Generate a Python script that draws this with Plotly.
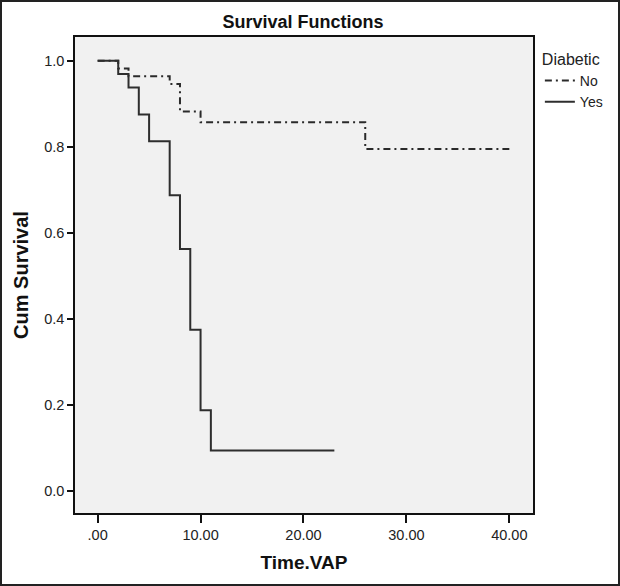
import plotly.graph_objects as go

# Data (Kaplan-Meier step curves)
no_time = [0, 2, 3, 7, 8, 10, 26, 40]
no_surv = [1.0, 0.982, 0.964, 0.946, 0.882, 0.857, 0.795, 0.795]

yes_time = [0, 2, 3, 4, 5, 7, 8, 9, 10, 11, 23]
yes_surv = [1.0, 0.969, 0.9375, 0.875, 0.8125, 0.6875, 0.5625, 0.375, 0.1875, 0.094, 0.094]

x_ticks = [0, 10, 20, 30, 40]
x_tick_labels = [".00", "10.00", "20.00", "30.00", "40.00"]
y_ticks = [0.0, 0.2, 0.4, 0.6, 0.8, 1.0]
y_tick_labels = ["0.0", "0.2", "0.4", "0.6", "0.8", "1.0"]

FONT = "Liberation Sans, Arial, sans-serif"

fig = go.Figure()
fig.add_trace(go.Scatter(
    x=no_time, y=no_surv, mode="lines", name="No",
    line=dict(shape="hv", color="#2a2a2a", width=2, dash="7px,4px,2px,4px"),
))
fig.add_trace(go.Scatter(
    x=yes_time, y=yes_surv, mode="lines", name="Yes",
    line=dict(shape="hv", color="#2e2e2e", width=2),
))

W, H = 620, 586
L, R, T, B = 75, 87, 37, 73
pw, ph = W - L - R, H - T - B

fig.update_layout(
    width=W, height=H,
    margin=dict(l=L, r=R, t=T, b=B, pad=0),
    paper_bgcolor="white",
    plot_bgcolor="#f1f1f1",
    font=dict(family=FONT, size=14, color="#222222"),
    title=dict(text="<b>Survival Functions</b>", x=(303 - L) / pw, xref="paper",
               xanchor="center", y=1 - 22 / H, yanchor="middle",
               font=dict(size=18, color="#111111")),
    showlegend=True,
    legend=dict(
        title=dict(text="Diabetic", font=dict(size=16, color="#222222")),
        x=1.015, y=0.985, xanchor="left", yanchor="top",
        bgcolor="rgba(0,0,0,0)", font=dict(size=14, color="#222222"),
        itemwidth=30, tracegroupgap=0,
    ),
    xaxis=dict(
        range=[-2.2, 42.3], tickvals=x_ticks, ticktext=x_tick_labels,
        showgrid=False, zeroline=False, showline=True, linecolor="#111111",
        linewidth=1.5, mirror=True, ticks="outside", ticklen=8, tickwidth=1.5,
        tickcolor="#111111", tickfont=dict(size=14.5),
        title=dict(text="<b>Time.VAP</b>", font=dict(size=19, color="#111111"), standoff=14),
    ),
    yaxis=dict(
        range=[-0.051, 1.055], tickvals=y_ticks, ticktext=y_tick_labels,
        showgrid=False, zeroline=False, showline=True, linecolor="#111111",
        linewidth=1.5, mirror=True, ticks="outside", ticklen=6, tickwidth=1.5,
        tickcolor="#111111", tickfont=dict(size=14.5),
        title=dict(text="<b>Cum Survival</b>", font=dict(size=20, color="#111111"), standoff=10),
    ),
)

# outer border around the whole image
fig.add_shape(type="rect", xref="paper", yref="paper",
              x0=(-L + 1) / pw, x1=1 + (R - 1) / pw,
              y0=(-B + 1) / ph, y1=1 + (T - 1) / ph,
              line=dict(color="#222222", width=2), fillcolor="rgba(0,0,0,0)", layer="above")

fig.write_html(
    "out.html",
    config={"displayModeBar": False},
    post_script="document.body.style.margin='0';document.body.style.padding='0';document.body.style.overflow='hidden';",
)
